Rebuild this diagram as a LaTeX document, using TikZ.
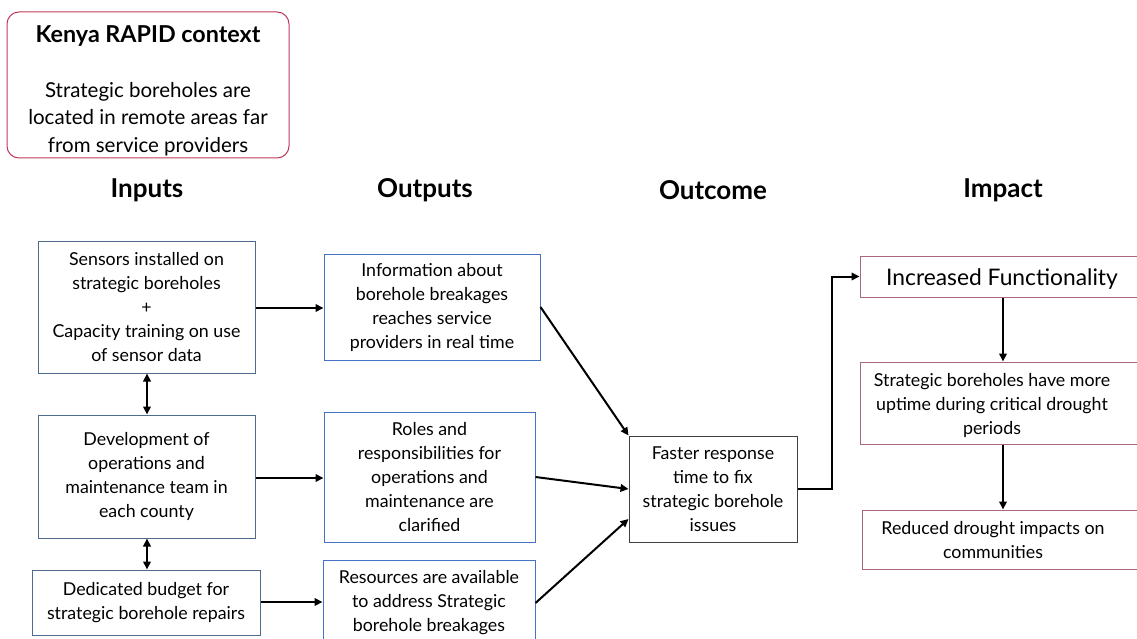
\documentclass[tikz,border=0pt]{standalone}
\usepackage{fontspec}
\setmainfont{Lato}
\usetikzlibrary{arrows.meta}
\definecolor{ctxred}{HTML}{C0395A}
\definecolor{inblue}{HTML}{4F6C8E}
\definecolor{outblue}{HTML}{4472C4}
\definecolor{ocgray}{HTML}{404040}
\definecolor{improse}{HTML}{A8687A}
\begin{document}
\begin{tikzpicture}[x=1pt,y=-1pt,
 txt/.style={align=center, font=\fontsize{17.8}{24}\selectfont},
 box/.style={draw, line width=1pt, txt, inner sep=0pt},
 ctxbox/.style={draw=ctxred, line width=1pt, rounded corners=12pt, inner sep=0pt},
 inbox/.style={box, draw=inblue},
 outbox/.style={box, draw=outblue},
 ocbox/.style={box, draw=ocgray},
 impbox/.style={box, draw=improse},
 head/.style={font=\bfseries\fontsize{26}{30}\selectfont},
 arr/.style={line width=2pt, -{Triangle[length=8pt,width=7.5pt]}},
 darr/.style={line width=2pt, {Triangle[length=8pt,width=7.5pt]}-{Triangle[length=8pt,width=7.5pt]}}]
\useasboundingbox (0,0) rectangle (1137,639);
\clip (0,0) rectangle (1137,639);

\node[ctxbox, minimum width=282pt, minimum height=146pt,
  label={[align=center, font=\fontsize{20.5}{27.5}\selectfont, yshift=-6pt]center:{\bfseries\fontsize{23.3}{27}\selectfont Kenya RAPID context}\\[27pt]Strategic boreholes are\\located in remote areas far\\from service providers}] (ctx) at (148,85) {};

\node[head] (hin) at (147,190) {Inputs};
\node[head] (hout) at (425,190) {Outputs};
\node[head] (hoc) at (713,190) {Outcome};
\node[head] (himp) at (1003,190) {Impact};

\node[inbox, minimum width=217pt, minimum height=132pt] (in1) at (146.5,307) {Sensors installed on\\strategic boreholes\\+\\Capacity training on use\\of sensor data};
\node[inbox, minimum width=217pt, minimum height=123pt] (in2) at (146.5,476.5) {Development of\\operations and\\maintenance team in\\each county};
\node[inbox, minimum width=228pt, minimum height=65pt] (in3) at (146,602.5) {Dedicated budget for\\strategic borehole repairs};

\node[outbox, minimum width=216pt, minimum height=106pt] (out1) at (432,307) {Information about\\borehole breakages\\reaches service\\providers in real time};
\node[outbox, minimum width=211pt, minimum height=130pt] (out2) at (429.5,477) {Roles and\\responsibilities for\\operations and\\maintenance are\\clarified};
\node[outbox, minimum width=212pt, minimum height=86pt] (out3) at (429,603) {Resources are available\\to address Strategic\\borehole breakages};

\node[ocbox, minimum width=168pt, minimum height=106pt] (oc) at (713,489) {Faster response\\time to fix\\strategic borehole\\issues};

\node[impbox, minimum width=286pt, minimum height=41pt,
  label={[font=\fontsize{22.8}{26}\selectfont, yshift=-3pt, xshift=-1pt]center:Increased Functionality}] (imp1) at (1003,276.5) {};
\node[impbox, minimum width=286pt, minimum height=82pt,
  label={[txt, xshift=-11pt, yshift=-2pt]center:Strategic boreholes have more\\uptime during critical drought\\periods}] (imp2) at (1003,403) {};
\node[impbox, minimum width=282pt, minimum height=59pt,
  label={[txt, xshift=-10pt, yshift=-1pt]center:Reduced drought impacts on\\communities}] (imp3) at (1003,539.5) {};

\draw[arr] (in1.east |- 0,308) -- (out1.west |- 0,308);
\draw[arr] (in2.east |- 0,478) -- (out2.west |- 0,478);
\draw[arr] (in3.east |- 0,602) -- (out3.west |- 0,602);
\draw[darr] (in1.south -| 147,0) -- (in2.north -| 147,0);
\draw[darr] (in2.south -| 147,0) -- (in3.north -| 147,0);

\draw[arr] (out1.east) -- (oc.north west);
\draw[arr] (out2.east) -- (oc.west);
\draw[arr] (out3.east) -- ([yshift=-30pt]oc.west);
\draw[arr] (oc.east) -- ++(34,0) |- (imp1.west);
\draw[arr] (imp1.south) -- (imp2.north);
\draw[arr] (imp2.south) -- (imp3.north);
\end{tikzpicture}
\end{document}
